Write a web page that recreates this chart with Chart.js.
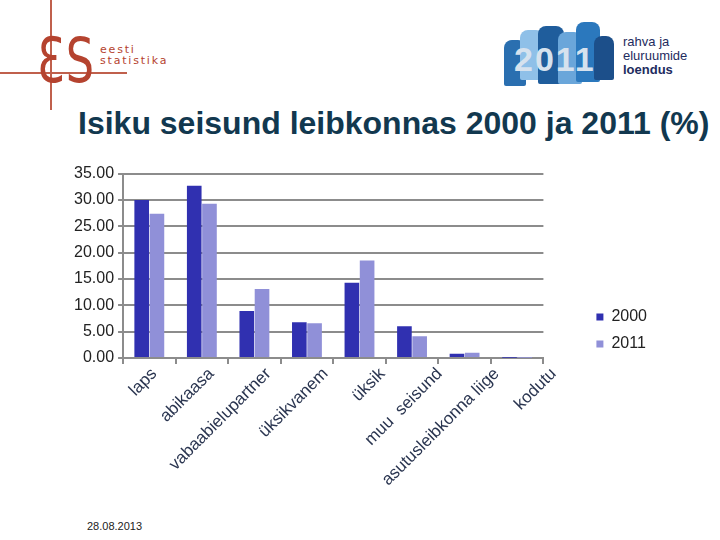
<!DOCTYPE html>
<html>
<head>
<meta charset="utf-8">
<script src="https://cdn.jsdelivr.net/npm/chart.js@4.4.1/dist/chart.umd.min.js"></script>
<style>
  html, body { margin: 0; padding: 0; background: #fff; }
  body { width: 720px; height: 540px; position: relative; overflow: hidden; font-family: "Liberation Sans", Arial, sans-serif; }
  .line { position: absolute; background: #c0604c; }
  #esLogo { position: absolute; left: 37px; top: 24px; font-size: 62px; color: #b5432f; font-family: "DejaVu Sans", sans-serif; transform: scaleX(0.72); transform-origin: left top; letter-spacing: 2px; }
  #esText { position: absolute; left: 100px; top: 44px; font-size: 11px; line-height: 11px; color: #b5432f; letter-spacing: 1.8px; font-family: "DejaVu Sans", sans-serif; }
  #census { position: absolute; left: 500px; top: 18px; width: 115px; height: 70px; }
  .fig { position: absolute; border-radius: 8px 8px 2px 2px; }
  #censusText { position: absolute; left: 623px; top: 35px; font-size: 13px; line-height: 14px; color: #1e2c5e; }
  #title { position: absolute; left: 78px; top: 105px; font-size: 32px; font-weight: bold; color: #12384f; white-space: nowrap; }
  #date { position: absolute; left: 87px; top: 520px; font-size: 11px; color: #222; }
  #wrap { position: absolute; left: 0; top: 160px; width: 720px; height: 330px; }
</style>
</head>
<body>
<div class="line" style="left:50px;top:0;width:2px;height:110px"></div>
<div class="line" style="left:0;top:72px;width:127px;height:2px"></div>
<div id="esLogo">ƐS</div>
<div id="esText">eesti<br>statistika</div>

<div id="census">
  <div class="fig" style="left:4px;top:22px;width:22px;height:46px;background:#2a6fb0"></div>
  <div class="fig" style="left:20px;top:12px;width:24px;height:50px;background:#8fc0e8"></div>
  <div class="fig" style="left:38px;top:8px;width:26px;height:58px;background:#1f5d9c"></div>
  <div class="fig" style="left:58px;top:14px;width:24px;height:52px;background:#6aa6da"></div>
  <div class="fig" style="left:76px;top:4px;width:24px;height:60px;background:#2b78bd"></div>
  <div class="fig" style="left:94px;top:18px;width:20px;height:44px;background:#1c4f8a"></div>
  <div style="position:absolute;left:14px;top:22px;font-size:34px;font-weight:bold;color:#d6e2ee;letter-spacing:2px">2011</div>
</div>
<div id="censusText">rahva ja<br>eluruumide<br><b>loendus</b></div>

<div id="title">Isiku seisund leibkonnas 2000 ja 2011 (%)</div>
<div id="wrap"><canvas id="chart"></canvas></div>
<div id="date">28.08.2013</div>

<script>
// categories and values
const categories = ['laps', 'abikaasa', 'vabaabielupartner', 'üksikvanem', 'üksik', 'muu  seisund', 'asutusleibkonna liige', 'kodutu'];
const values2000 = [30.0, 32.7, 8.9, 6.8, 14.3, 6.0, 0.8, 0.05];
const values2011 = [27.4, 29.3, 13.1, 6.6, 18.5, 4.1, 1.0, 0.05];
const yTicks = [0, 5, 10, 15, 20, 25, 30, 35];

const gridColor = '#8c8c8c';
const textColor = '#222222';
const FONT = '"Liberation Sans", Arial';

// gap between plot and legend: widen legend box, then push it right
const LEGEND_GAP = 42;
const legendGap = {
  id: 'legendGap',
  beforeInit(chart) {
    const fit = chart.legend.fit;
    chart.legend.fit = function () {
      fit.bind(chart.legend)();
      this.width += LEGEND_GAP;
    };
  },
  afterLayout(chart) {
    chart.legend.left += LEGEND_GAP;
  }
};

// x labels drift right of the category centres in the original
const labelDrift = {
  id: 'labelDrift',
  beforeDraw(chart) {
    const items = chart.scales.x.getLabelItems(chart.chartArea);
    if (items._drifted) return;
    items.forEach((it, i) => { it.options.translation[0] += 5 + i * 4.5; });
    items._drifted = true;
  }
};

let chart = new Chart(document.getElementById('chart'), {
  type: 'bar',
  data: {
    labels: categories,
    datasets: [{
      label: '2000',
      data: values2000,
      backgroundColor: '#3030b0',
      categoryPercentage: 0.58,
      barPercentage: 0.96
    }, {
      label: '2011',
      data: values2011,
      backgroundColor: '#9090d8',
      categoryPercentage: 0.58,
      barPercentage: 0.96
    }]
  },
  options: {
    animation: false,
    responsive: true,
    maintainAspectRatio: false,
    layout: {
      padding: { left: 70, right: 63, top: 11, bottom: 0 }
    },
    plugins: {
      legend: {
        position: 'right',
        align: 'center',
        labels: {
          boxWidth: 7,
          boxHeight: 7,
          padding: 11,
          color: textColor,
          font: { family: FONT, size: 16 }
        }
      },
      tooltip: { enabled: false }
    },
    scales: {
      x: {
        grid: {
          offset: true,
          drawOnChartArea: false,
          drawTicks: true,
          tickLength: 6,
          color: gridColor,
          lineWidth: 2
        },
        border: { color: gridColor, width: 2 },
        ticks: {
          minRotation: 45,
          maxRotation: 45,
          autoSkip: false,
          padding: 0,
          color: '#2a3550',
          font: { family: FONT, size: 17 }
        }
      },
      y: {
        min: 0,
        max: 35,
        afterBuildTicks: axis => { axis.ticks = yTicks.map(v => ({ value: v })); },
        grid: {
          color: gridColor,
          lineWidth: 2,
          tickLength: 5
        },
        border: { color: gridColor, width: 2 },
        ticks: {
          padding: 4,
          color: textColor,
          font: { family: FONT, size: 16 },
          callback: v => Number(v).toFixed(2)
        }
      }
    }
  },
  plugins: [legendGap, labelDrift]
});
</script>
</body>
</html>
